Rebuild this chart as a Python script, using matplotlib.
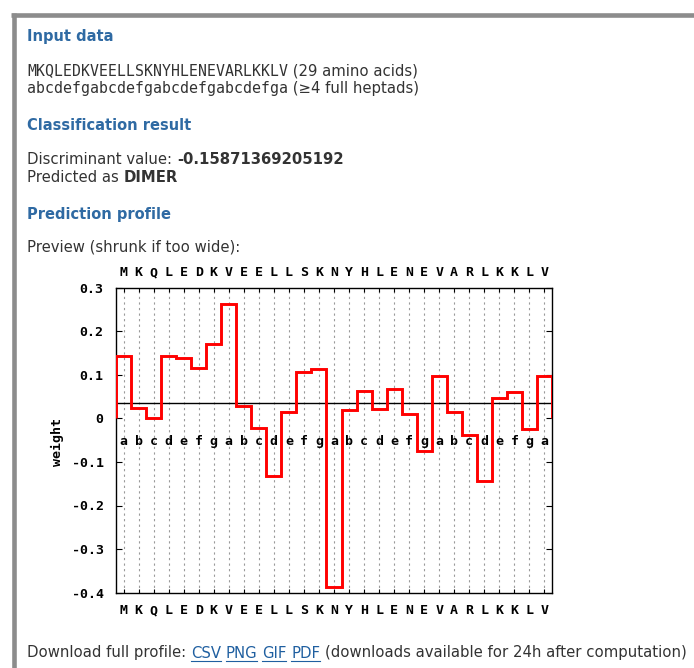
import matplotlib
matplotlib.use("Agg")
import matplotlib.pyplot as plt
from matplotlib.lines import Line2D
import numpy as np

# ---------------- data ----------------
sequence = list("MKQLEDKVEELLSKNYHLENEVARLKKLV")
heptad = list("abcdefgabcdefgabcdefgabcdefga")
weights = [0.144, 0.025, 0.001, 0.143, 0.138, 0.115, 0.172, 0.264, 0.028,
           -0.021, -0.132, 0.015, 0.106, 0.113, -0.387, 0.019, 0.064, 0.021,
           0.067, 0.010, -0.075, 0.098, 0.015, -0.037, -0.144, 0.047, 0.060,
           -0.025, 0.098]
threshold = 0.036
ytick_values = [0.3, 0.2, 0.1, 0.0, -0.1, -0.2, -0.3, -0.4]
ytick_labels = ["0.3", "0.2", "0.1", "0", "-0.1", "-0.2", "-0.3", "-0.4"]

W, H = 694, 668
fig = plt.figure(figsize=(W / 100, H / 100), dpi=100)
fig.patch.set_facecolor("white")

def fx(px):
    return px / W

def fy(py):
    return 1 - py / H

# ---------------- page frame ----------------
gray = "#8c8c8c"
fig.add_artist(Line2D([fx(11), fx(694)], [fy(15), fy(15)], color=gray, lw=3.3,
                      solid_capstyle="butt", transform=fig.transFigure))
fig.add_artist(Line2D([fx(13.5), fx(13.5)], [fy(13), fy(668)], color=gray, lw=3.3,
                      solid_capstyle="butt", transform=fig.transFigure))

head_col = "#2f6aa3"
txt_col = "#333333"
link_col = "#1f5fa0"
SANS = "DejaVu Sans"
MONO = "DejaVu Sans Mono"

renderer = fig.canvas.get_renderer()

def seg(x, y, s, underline=False, **kw):
    t = fig.text(fx(x), fy(y), s, va="center", ha="left", **kw)
    bb = t.get_window_extent(renderer=renderer)
    if underline:
        fig.add_artist(Line2D([fx(x), fx(x + bb.width)], [fy(y + 8), fy(y + 8)],
                              color=kw.get("color", "k"), lw=0.8,
                              transform=fig.transFigure))
    return x + bb.width

hs = 10.5
ts = 10.7
ms = 10.7
x0 = 27
seg(x0, 37, "Input data", fontsize=hs, fontweight="bold", color=head_col, family=SANS)
x = seg(x0, 71, "".join(sequence), fontsize=ms, color=txt_col, family=MONO)
seg(x, 71, " (29 amino acids)", fontsize=ts, color=txt_col, family=SANS)
x = seg(x0, 88, "".join(heptad), fontsize=ms, color=txt_col, family=MONO)
seg(x, 88, " (\u22654 full heptads)", fontsize=ts, color=txt_col, family=SANS)

seg(x0, 126, "Classification result", fontsize=hs, fontweight="bold", color=head_col, family=SANS)
x = seg(x0, 159, "Discriminant value: ", fontsize=ts, color=txt_col, family=SANS)
seg(x, 159, "-0.15871369205192", fontsize=ts, fontweight="bold", color=txt_col, family=SANS)
x = seg(x0, 177, "Predicted as ", fontsize=ts, color=txt_col, family=SANS)
seg(x, 177, "DIMER", fontsize=ts, fontweight="bold", color=txt_col, family=SANS)

seg(x0, 214, "Prediction profile", fontsize=hs, fontweight="bold", color=head_col, family=SANS)
seg(x0, 247, "Preview (shrunk if too wide):", fontsize=ts, color=txt_col, family=SANS)

x = seg(x0, 653, "Download full profile: ", fontsize=ts, color=txt_col, family=SANS)
for lk in ["CSV", "PNG", "GIF", "PDF"]:
    x = seg(x, 653, lk, underline=True, fontsize=ts, color=link_col, family=SANS)
    x = seg(x, 653, " ", fontsize=ts, color=txt_col, family=SANS)
seg(x, 653, "(downloads available for 24h after computation)", fontsize=ts,
    color=txt_col, family=SANS)

# ---------------- chart ----------------
L, R, T, B = 116, 552, 288, 592.5
ax = fig.add_axes([fx(L), fy(B), (R - L) / W, (B - T) / H])
n = len(weights)
pos = np.arange(1, n + 1)
ax.set_xlim(0.5, n + 0.5)
ax.set_ylim(-0.4, 0.3)

for p in pos:
    ax.axvline(p, color="#9a9a9a", lw=0.8, ls=(0, (2, 3)), zorder=1)
ax.axhline(threshold, color="black", lw=1.0, zorder=2)
ax.stairs(weights, np.arange(0.5, n + 1.0, 1.0), baseline=0, fill=False,
          color="#ff0000", lw=2.1, zorder=3)

cf = dict(family=MONO, fontweight="bold", fontsize=9.5, color="black")
for p, h in zip(pos, heptad):
    ax.text(p, -0.054, h, ha="center", va="center", zorder=4, **cf)
for p, s in zip(pos, sequence):
    ax.text(p, 1 + 15 / (B - T), s, transform=ax.get_xaxis_transform(),
            ha="center", va="center", **cf)
    ax.text(p, -18 / (B - T), s, transform=ax.get_xaxis_transform(),
            ha="center", va="center", **cf)

ax.set_yticks(ytick_values)
ax.set_yticklabels(ytick_labels, **cf)
ax.set_xticks(pos)
ax.set_xticklabels([])
ax.tick_params(axis="y", direction="in", length=4, width=0.8, left=True, right=True,
               pad=9)
ax.tick_params(axis="x", direction="in", length=3, width=0.8, top=True, bottom=True)
for sp in ax.spines.values():
    sp.set_linewidth(1.0)
    sp.set_color("black")
fig.text(fx(57), fy(441.7), "weight", rotation=90, ha="center", va="center", **cf)

fig.savefig("out.png", dpi=100, facecolor="white")
